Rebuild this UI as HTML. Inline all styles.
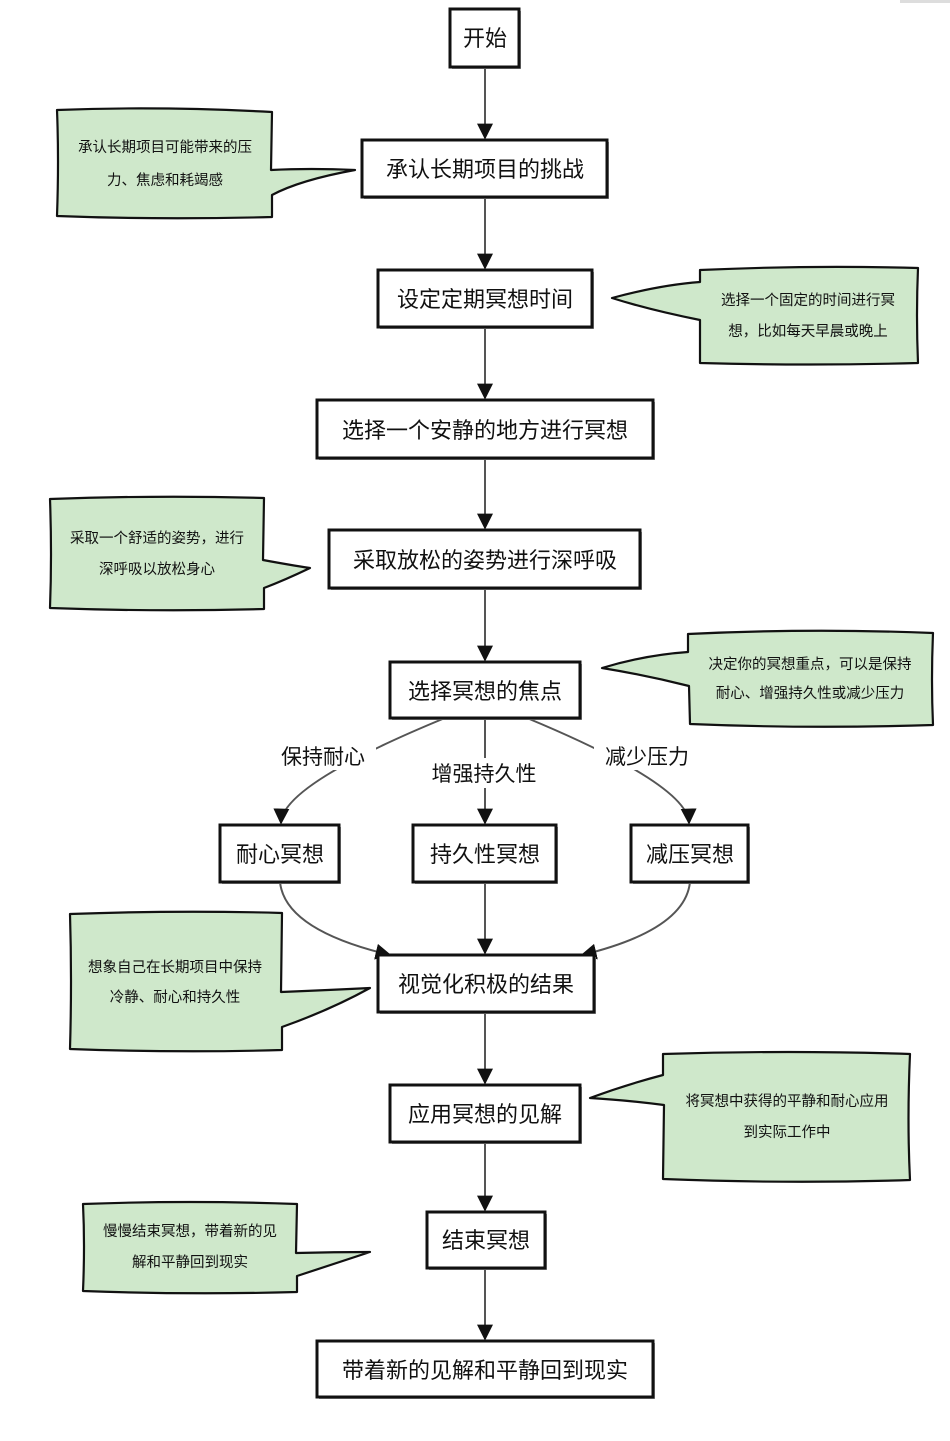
<!DOCTYPE html>
<html><head><meta charset="utf-8"><style>
html,body{margin:0;padding:0;background:#fff;}
svg{display:block;}
text{font-family:"Liberation Sans","Noto Sans CJK SC",sans-serif;fill:#111;}
.b{fill:#fff;stroke:#111;stroke-width:3;}
.s{fill:#999;}
.c{fill:#cfe8cb;stroke:#111;stroke-width:2.2;stroke-linejoin:round;}
.e{fill:none;stroke:#555;stroke-width:2;}
.t{font-size:22px;text-anchor:middle;}
.n{font-size:14.5px;text-anchor:middle;}
.l{font-size:21px;text-anchor:middle;}
</style></head><body>
<svg width="950" height="1441" viewBox="0 0 950 1441" xmlns="http://www.w3.org/2000/svg">
<defs><marker id="a" viewBox="0 0 10 10" refX="9" refY="5" markerWidth="8" markerHeight="8" orient="auto"><path d="M0,0 L10,5 L0,10 Z" fill="#111"/></marker></defs>
<rect x="900" y="0" width="50" height="3" fill="#ddd"/>
<g class="e" marker-end="url(#a)">
<path d="M485,67 V138"/>
<path d="M485,197 V268"/>
<path d="M485,327 V398"/>
<path d="M485,458 V528"/>
<path d="M485,588 V660"/>
<path d="M485,718 V823"/>
<path d="M445,718 Q282,785 281,823"/>
<path d="M527,718 Q688,785 689,823"/>
<path d="M280,882 Q285,930 390,955"/>
<path d="M485,882 V953"/>
<path d="M690,882 Q685,930 582,955"/>
<path d="M485,1012 V1083"/>
<path d="M485,1142 V1210"/>
<path d="M485,1268 V1339"/>
</g>
<rect x="270" y="740" width="106" height="30" fill="#fff"/>
<rect x="420" y="758" width="128" height="30" fill="#fff"/>
<rect x="594" y="740" width="106" height="30" fill="#fff"/>
<text class="l" x="323" y="764">保持耐心</text>
<text class="l" x="484" y="781">增强持久性</text>
<text class="l" x="647" y="764">减少压力</text>
<g>
<rect class="s" x="452" y="11" width="69" height="58"/><rect class="b" x="450" y="9" width="69" height="58"/>
<rect class="s" x="364" y="142" width="245" height="57"/><rect class="b" x="362" y="140" width="245" height="57"/>
<rect class="s" x="380" y="272" width="214" height="57"/><rect class="b" x="378" y="270" width="214" height="57"/>
<rect class="s" x="319" y="402" width="336" height="58"/><rect class="b" x="317" y="400" width="336" height="58"/>
<rect class="s" x="331" y="532" width="311" height="58"/><rect class="b" x="329" y="530" width="311" height="58"/>
<rect class="s" x="392" y="664" width="190" height="56"/><rect class="b" x="390" y="662" width="190" height="56"/>
<rect class="s" x="222" y="827" width="119" height="57"/><rect class="b" x="220" y="825" width="119" height="57"/>
<rect class="s" x="415" y="827" width="143" height="57"/><rect class="b" x="413" y="825" width="143" height="57"/>
<rect class="s" x="633" y="827" width="117" height="57"/><rect class="b" x="631" y="825" width="117" height="57"/>
<rect class="s" x="380" y="957" width="216" height="57"/><rect class="b" x="378" y="955" width="216" height="57"/>
<rect class="s" x="392" y="1087" width="190" height="57"/><rect class="b" x="390" y="1085" width="190" height="57"/>
<rect class="s" x="429" y="1214" width="118" height="56"/><rect class="b" x="427" y="1212" width="118" height="56"/>
<rect class="s" x="319" y="1343" width="336" height="56"/><rect class="b" x="317" y="1341" width="336" height="56"/>
</g>
<text class="t" x="485" y="46">开始</text>
<text class="t" x="485" y="177">承认长期项目的挑战</text>
<text class="t" x="485" y="307">设定定期冥想时间</text>
<text class="t" x="485" y="438">选择一个安静的地方进行冥想</text>
<text class="t" x="485" y="568">采取放松的姿势进行深呼吸</text>
<text class="t" x="485" y="699">选择冥想的焦点</text>
<text class="t" x="280" y="862">耐心冥想</text>
<text class="t" x="485" y="862">持久性冥想</text>
<text class="t" x="690" y="862">减压冥想</text>
<text class="t" x="486" y="992">视觉化积极的结果</text>
<text class="t" x="485" y="1122">应用冥想的见解</text>
<text class="t" x="486" y="1248">结束冥想</text>
<text class="t" x="485" y="1378">带着新的见解和平静回到现实</text>
<path class="c" d="M57,110 Q160,106 272,112 L271,170 Q310,168 355,170 Q300,180 272,195 L272,217 Q160,220 57,216 Q59,160 57,110 Z"/>
<text class="n" x="165" y="152">承认长期项目可能带来的压</text>
<text class="n" x="165" y="185">力、焦虑和耗竭感</text>
<path class="c" d="M700,270 Q810,265 918,268 Q916,315 918,363 Q810,366 700,363 L700,320 Q650,310 612,298 Q660,285 700,282 Z"/>
<text class="n" x="808" y="305">选择一个固定的时间进行冥</text>
<text class="n" x="808" y="336">想，比如每天早晨或晚上</text>
<path class="c" d="M50,499 Q160,495 264,498 L263,560 Q290,565 310,568 Q285,580 264,588 L264,609 Q160,612 50,608 Q52,555 50,499 Z"/>
<text class="n" x="157" y="543">采取一个舒适的姿势，进行</text>
<text class="n" x="157" y="574">深呼吸以放松身心</text>
<path class="c" d="M688,634 Q810,628 933,633 Q931,680 933,725 Q810,729 690,724 L689,686 Q645,675 602,668 Q645,655 688,652 Z"/>
<text class="n" x="810" y="669">决定你的冥想重点，可以是保持</text>
<text class="n" x="810" y="698">耐心、增强持久性或减少压力</text>
<path class="c" d="M70,914 Q180,910 282,913 L281,992 Q330,990 370,988 Q330,1010 282,1027 L282,1050 Q180,1053 70,1049 Q72,980 70,914 Z"/>
<text class="n" x="175" y="972">想象自己在长期项目中保持</text>
<text class="n" x="175" y="1002">冷静、耐心和持久性</text>
<path class="c" d="M663,1054 Q790,1050 910,1054 Q907,1120 910,1180 Q790,1184 663,1179 L664,1105 Q625,1100 590,1098 Q625,1085 663,1075 Z"/>
<text class="n" x="787" y="1106">将冥想中获得的平静和耐心应用</text>
<text class="n" x="787" y="1137">到实际工作中</text>
<path class="c" d="M83,1204 Q190,1200 297,1204 L296,1253 Q335,1252 370,1252 Q330,1265 297,1276 L297,1292 Q190,1295 83,1291 Q85,1245 83,1204 Z"/>
<text class="n" x="190" y="1236">慢慢结束冥想，带着新的见</text>
<text class="n" x="190" y="1267">解和平静回到现实</text>
</svg>
</body></html>
